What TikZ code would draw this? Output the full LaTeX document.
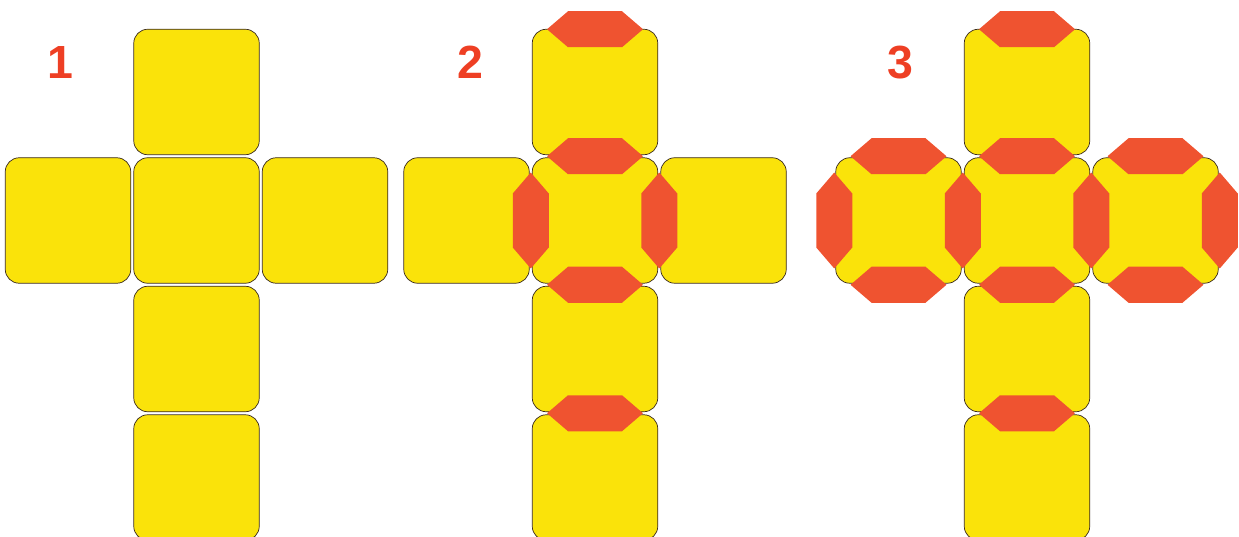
\documentclass[tikz,border=0pt]{standalone}
\usepackage{fontspec}
\newfontfamily\numfont{Liberation Sans}
\definecolor{faceyellow}{HTML}{FAE30A}
\definecolor{flapred}{HTML}{EF5330}
\definecolor{numred}{HTML}{EE3F24}
\definecolor{edgecol}{HTML}{3A2A20}
\tikzset{
  face/.style={draw=edgecol, line width=0.7pt, fill=faceyellow, rectangle,
    rounded corners=14pt, minimum size=125.5pt, inner sep=0pt},
  numlabel/.style={text=numred, font=\numfont\bfseries\fontsize{46.5}{50}\selectfont, inner sep=0pt},
  pics/hflap/.style={code={\fill[flapred] (-48,0)--(-27,-18)--(27,-18)--(48,0)--(27,18)--(-27,18)--cycle;}},
  pics/vflap/.style={code={\fill[flapred] (0,-48)--(-18,-27)--(-18,27)--(0,48)--(18,27)--(18,-27)--cycle;}}
}
\begin{document}
\begin{tikzpicture}[x=1pt,y=-1pt]
\useasboundingbox (0,0) rectangle (1239,537);
% rows: 92, 220.5, 349, 477.5 ; pitch 128.5
% Panel 1
\node[face] (p1t)  at (196.5,92) {};
\node[face] (p1l)  at (68,220.5) {};
\node[face] (p1c)  at (196.5,220.5) {};
\node[face] (p1r)  at (325,220.5) {};
\node[face] (p1b1) at (196.5,349) {};
\node[face] (p1b2) at (196.5,477.5) {};
\node[numlabel] (n1) at (60.5,62.7) {1};
% Panel 2
\node[face] (p2t)  at (595,92) {};
\node[face] (p2l)  at (466.5,220.5) {};
\node[face] (p2c)  at (595,220.5) {};
\node[face] (p2r)  at (723.5,220.5) {};
\node[face] (p2b1) at (595,349) {};
\node[face] (p2b2) at (595,477.5) {};
\node[numlabel] (n2) at (470,62.7) {2};
% Panel 3
\node[face] (p3t)  at (1027,92) {};
\node[face] (p3l)  at (898.5,220.5) {};
\node[face] (p3c)  at (1027,220.5) {};
\node[face] (p3r)  at (1155.5,220.5) {};
\node[face] (p3b1) at (1027,349) {};
\node[face] (p3b2) at (1027,477.5) {};
\node[numlabel] (n3) at (900.8,62.7) {3};
% Flaps panel 2
\foreach \y in {29.25,156.25,284.75,413.25} { \pic at (595,\y) {hflap}; }
\foreach \x in {530.75,659.25} { \pic at (\x,220.5) {vflap}; }
% Flaps panel 3
\foreach \y in {29.25,156.25,284.75,413.25} { \pic at (1027,\y) {hflap}; }
\foreach \x in {898.5,1155.5} { \foreach \y in {156.25,284.75} { \pic at (\x,\y) {hflap}; } }
\foreach \x in {834.25,962.75,1091.25,1219.75} { \pic at (\x,220.5) {vflap}; }
\end{tikzpicture}
\end{document}
